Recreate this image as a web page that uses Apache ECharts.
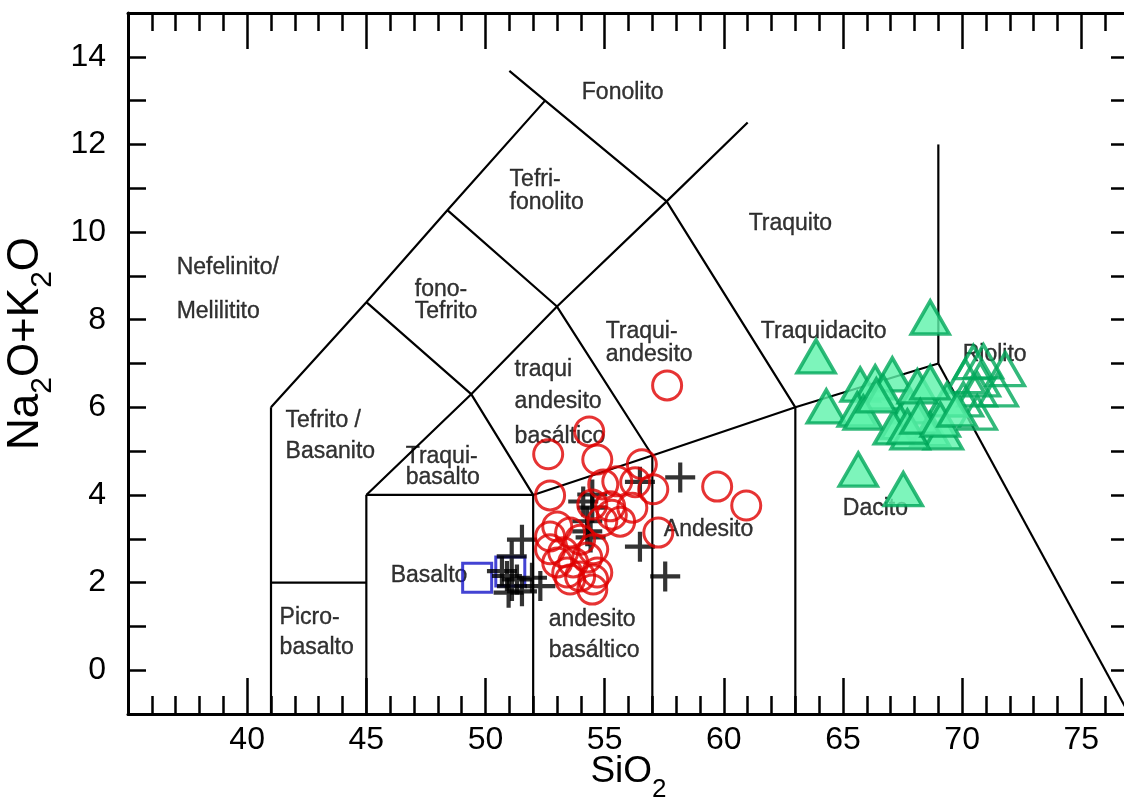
<!DOCTYPE html>
<html>
<head>
<meta charset="utf-8">
<script src="https://cdn.jsdelivr.net/npm/echarts@6/dist/echarts.min.js"></script>
<style>
  html, body { margin: 0; padding: 0; background: #fff; }
  #chart { width: 1124px; height: 801px; }
</style>
</head>
<body>
<div id="chart"></div>
<script>
// ---- TAS diagram: SiO2 vs Na2O+K2O ----

// axis extents
const xMin = 35, xMax = 77;
const yMin = -1, yMax = 15;

// field boundaries (polylines, [SiO2, Na2O+K2O])
const boundaryLines = [
  [[41, -1], [41, 6]],
  [[41, 2], [45, 2]],
  [[45, -1], [45, 4]],
  [[45, 4], [52, 4]],
  [[52, -1], [52, 4]],
  [[52, 4], [57, 4.9], [63, 6], [69, 7]],
  [[57, -1], [57, 4.9]],
  [[63, -1], [63, 6]],
  [[69, 7], [69, 12]],
  [[69, 7], [77, -1]],
  [[41, 6], [45, 8.4], [48.4, 10.5], [52.5, 13]],
  [[45, 8.4], [49.4, 6.3], [52, 4]],
  [[45, 4], [49.4, 6.3], [53, 8.3], [57.6, 10.7], [61, 12.5]],
  [[48.4, 10.5], [53, 8.3], [57, 4.9]],
  [[51, 13.68], [52.5, 13], [57.6, 10.7], [63, 6]]
];

// field names: text, left edge SiO2, centre Na2O+K2O
const fieldText = ['Fonolito', 'Tefri-', 'fonolito', 'Traquito', 'Nefelinito/', 'Melilitito',
  'fono-', 'Tefrito', 'Traqui-', 'andesito', 'Traquidacito', 'traqui', 'andesito', 'basáltico',
  'Riolito', 'Tefrito /', 'Basanito', 'Traqui-', 'basalto', 'Andesito', 'Dacito', 'Basalto',
  'Picro-', 'basalto', 'andesito', 'basáltico'];
const fieldX = [54.02, 50.99, 50.99, 61.02, 37.02, 37.02,
  47.01, 47.01, 55.02, 55.02, 61.53, 51.2, 51.2, 51.2,
  70.0, 41.59, 41.59, 46.63, 46.63, 57.46, 64.97, 46.0,
  41.34, 41.34, 52.63, 52.63];
const fieldY = [13.19, 11.2, 10.68, 10.2, 9.19, 8.19,
  8.69, 8.19, 7.73, 7.21, 7.73, 6.87, 6.14, 5.34,
  7.21, 5.7, 4.99, 4.88, 4.4, 3.21, 3.69, 2.16,
  1.2, 0.52, 1.16, 0.45];

// sample group 1: open red circles
const circleSiO2 = [57.62, 52.63, 54.35, 54.69, 56.56, 52.71, 54.94, 55.53, 56.28, 57.04,
  59.72, 60.94, 54.48, 55.23, 56.16, 55.65, 57.25, 53.01, 52.71, 53.55,
  53.97, 54.52, 52.71, 53.26, 53.68, 54.27, 53.01, 53.43, 53.97, 54.52,
  54.48, 54.69, 53.55, 54.9, 55.3];
const circleAlk = [6.5, 4.93, 5.45, 4.81, 4.7, 3.99, 4.24, 4.31, 4.29, 4.13,
  4.19, 3.76, 3.78, 3.74, 3.71, 3.39, 3.14, 3.28, 3.05, 3.14,
  2.98, 2.76, 2.76, 2.69, 2.46, 2.57, 2.46, 2.23, 2.14, 2.07,
  1.84, 2.23, 2.07, 3.4, 3.55];

// sample group 2: black crosses
const crossSiO2 = [58.17, 56.48, 56.48, 57.54, 54.48, 54.48, 54.27, 54.27, 54.41, 51.53,
  51.1, 50.9, 51.11, 51.32, 51.95, 52.3, 50.97, 51.53, 50.69, 54.1];
const crossAlk = [4.4, 4.3, 2.82, 2.14, 4.01, 3.71, 3.4, 3.17, 3.03, 2.98,
  2.6, 2.15, 1.92, 2.07, 2.11, 1.92, 1.77, 1.8, 2.26, 3.85];

// sample group 3: open blue squares
const squareSiO2 = [49.65, 51.04];
const squareAlk = [2.11, 2.25];

// sample group 4: filled green triangles
const triFillSiO2 = [68.66, 63.87, 64.3, 65.64, 67.53, 65.72, 66.35, 67.07, 66.69, 65.6,
  67.82, 69.37, 67.4, 68.66, 69.21, 68.12, 68.66, 65.85, 67.11, 67.82,
  67.7, 68.24, 69.08, 69.79, 66.4];
const triFillAlk = [8.05, 7.16, 6.02, 4.58, 4.13, 6.52, 6.57, 6.75, 6.34, 5.95,
  6.02, 6.18, 5.66, 5.5, 5.43, 6.48, 6.57, 5.88, 5.54, 5.43,
  5.56, 5.79, 5.72, 5.95, 6.27];

// sample group 5: open green triangles
const triOpenSiO2 = [70.47, 70.89, 71.81, 70.13, 70.76, 71.51, 70.63, 70.63, 70.05];
const triOpenAlk = [7.03, 7.05, 6.87, 6.71, 6.64, 6.41, 6.41, 5.88, 6.18];

const zip = (xs, ys) => xs.map((x, i) => [x, ys[i]]);

const crossPath = 'path://M4.3,0H5.7V4.3H10V5.7H5.7V10H4.3V5.7H0V4.3H4.3Z';
const FONT = '"Liberation Sans", Arial, Helvetica, sans-serif';

const boundarySeries = boundaryLines.map(pts => ({
  type: 'line',
  data: pts,
  showSymbol: false,
  symbol: 'none',
  silent: true,
  z: 2,
  lineStyle: { color: '#000', width: 2.2 },
  animation: false
}));

const fieldSeries = {
  type: 'scatter',
  silent: true,
  z: 3,
  symbolSize: 1,
  itemStyle: { color: 'rgba(0,0,0,0)' },
  data: fieldText.map((t, i) => ({ value: [fieldX[i], fieldY[i]], name: t })),
  label: {
    show: true,
    position: 'right',
    distance: 0,
    formatter: p => p.name,
    color: '#000',
    textBorderColor: '#000',
    textBorderWidth: 0.35,
    fontFamily: FONT,
    fontSize: 23
  }
};

const tick = len => ({ show: true, inside: true, length: len, lineStyle: { color: '#000', width: 2.5 } });

const xAxisBase = {
  type: 'value', min: xMin, max: xMax, splitLine: { show: false }
};
const yAxisBase = {
  type: 'value', min: yMin, max: yMax, interval: 1, splitLine: { show: false }
};

const chart = echarts.init(document.getElementById('chart'));
chart.setOption({
  animation: false,
  backgroundColor: '#fff',
  grid: { left: 128, top: 13, right: -5, bottom: 87, containLabel: false, outerBoundsMode: 'none' },
  xAxis: [
    Object.assign({}, xAxisBase, {
      position: 'bottom', interval: 1,
      axisLine: { show: true, onZero: false, lineStyle: { color: '#000', width: 3 } },
      axisTick: tick(18),
      axisLabel: {
        interval: 0, margin: 10, color: '#000', fontFamily: FONT, fontSize: 32,
        formatter: v => (v % 5 === 0 && v >= 40 && v <= 75) ? String(v) : ''
      },
      name: '{a|SiO}{s|2}', nameLocation: 'middle', nameGap: 30, nameMoveOverlap: false,
      nameTextStyle: {
        rich: {
          a: { fontFamily: FONT, fontSize: 37, color: '#000', lineHeight: 56 },
          s: { fontFamily: FONT, fontSize: 26, color: '#000', lineHeight: 20, padding: [36, 0, 0, 0] }
        }
      }
    }),
    Object.assign({}, xAxisBase, {
      position: 'bottom', interval: 5,
      axisLine: { show: false, onZero: false },
      axisTick: tick(36),
      axisLabel: { show: false }
    }),
    Object.assign({}, xAxisBase, {
      position: 'top', interval: 1,
      axisLine: { show: true, onZero: false, lineStyle: { color: '#000', width: 3 } },
      axisTick: tick(18),
      axisLabel: { show: false }
    }),
    Object.assign({}, xAxisBase, {
      position: 'top', interval: 5,
      axisLine: { show: false, onZero: false },
      axisTick: tick(36),
      axisLabel: { show: false }
    })
  ],
  yAxis: [
    Object.assign({}, yAxisBase, {
      position: 'left',
      axisLine: { show: true, onZero: false, lineStyle: { color: '#000', width: 3 } },
      axisTick: tick(18),
      axisLabel: {
        interval: 0, margin: 22, color: '#000', fontFamily: FONT, fontSize: 32,
        formatter: v => (v % 2 === 0) ? String(v) : ''
      },
      name: '{a|Na}{s|2}{a|O+K}{s|2}{a|O}', nameLocation: 'middle', nameGap: 72, nameRotate: 90,
      nameTextStyle: {
        padding: [0, 0, 0, 40],
        rich: {
          a: { fontFamily: FONT, fontSize: 44, color: '#000', lineHeight: 60 },
          s: { fontFamily: FONT, fontSize: 30, color: '#000', lineHeight: 26, padding: [34, 0, 0, 0] }
        }
      }
    }),
    Object.assign({}, yAxisBase, {
      position: 'right',
      axisLine: { show: true, onZero: false, lineStyle: { color: '#000', width: 3 } },
      axisTick: tick(18),
      axisLabel: { show: false }
    })
  ],
  series: [
    ...boundarySeries,
    fieldSeries,
    {
      type: 'scatter', name: 'squares', z: 4,
      data: zip(squareSiO2, squareAlk),
      symbol: 'rect', symbolSize: 29,
      itemStyle: { color: 'rgba(0,0,0,0)', borderColor: '#1414c8', borderWidth: 3 }
    },
    {
      type: 'scatter', name: 'crosses', z: 5,
      data: zip(crossSiO2, crossAlk),
      symbol: crossPath, symbolSize: 30,
      itemStyle: { color: '#000' }
    },
    {
      type: 'scatter', name: 'circles', z: 6,
      data: zip(circleSiO2, circleAlk),
      symbol: 'circle', symbolSize: 29,
      itemStyle: { color: 'rgba(0,0,0,0)', borderColor: '#e00000', borderWidth: 3 }
    },
    {
      type: 'scatter', name: 'triangles open', z: 5,
      data: zip(triOpenSiO2, triOpenAlk),
      symbol: 'triangle', symbolSize: [38, 33],
      itemStyle: { color: 'rgba(0,0,0,0)', borderColor: '#00a85a', borderWidth: 3.5 }
    },
    {
      type: 'scatter', name: 'triangles filled', z: 5,
      data: zip(triFillSiO2, triFillAlk),
      symbol: 'triangle', symbolSize: [38, 33],
      itemStyle: { color: '#5cf2aa', borderColor: '#00a85a', borderWidth: 3.5 }
    }
  ]
});
</script>
</body>
</html>
